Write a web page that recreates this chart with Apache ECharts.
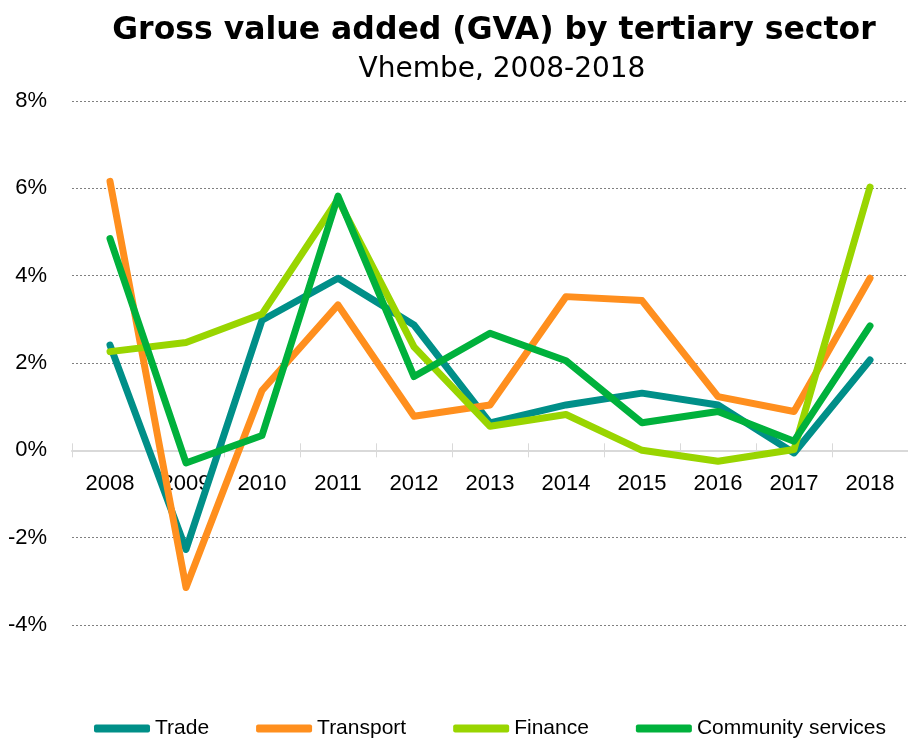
<!DOCTYPE html>
<html>
<head>
<meta charset="utf-8">
<script src="https://cdn.jsdelivr.net/npm/echarts@6/dist/echarts.min.js"></script>
<style>
  html, body { margin: 0; padding: 0; background: #fff; }
  #chart { width: 908px; height: 740px; }
</style>
</head>
<body>
<div id="chart"></div>
<script>
// GVA growth by tertiary sector, Vhembe
const years = ['2008', '2009', '2010', '2011', '2012', '2013', '2014', '2015', '2016', '2017', '2018'];
const trade = [2.41, -2.27, 2.98, 3.94, 2.87, 0.63, 1.04, 1.31, 1.04, -0.06, 2.07];
const transport = [6.16, -3.14, 1.37, 3.33, 0.78, 1.04, 3.52, 3.43, 1.23, 0.89, 3.94];
const finance = [2.26, 2.47, 3.12, 5.75, 2.37, 0.55, 0.82, 0.0, -0.25, 0.02, 6.03];
const community = [4.85, -0.29, 0.34, 5.82, 1.69, 2.68, 2.05, 0.63, 0.89, 0.21, 2.85];
const yTicks = [-4, -2, 0, 2, 4, 6, 8];

const labelFont = '"Liberation Sans", Arial, sans-serif';
const gridTop = 101;
const gridBottom = 115;
const gridHeight = 740 - gridTop - gridBottom;
// the category axis sits on the 0% line, not at the bottom of the plot
const zeroOffset = -gridHeight * (0 - yTicks[0]) / (yTicks[yTicks.length - 1] - yTicks[0]);

function lineSeries(name, data, color) {
  return {
    name: name,
    type: 'line',
    data: data,
    symbol: 'none',
    color: color,
    zlevel: 1, // lines go over the year labels
    lineStyle: { width: 7, color: color, cap: 'round', join: 'round' }
  };
}

const chart = echarts.init(document.getElementById('chart'));
chart.setOption({
  animation: false,
  title: [
    {
      text: 'Gross value added (GVA) by tertiary sector',
      left: 489,
      top: 10,
      textAlign: 'center',
      textStyle: { fontFamily: '"DejaVu Sans"', fontWeight: 'bold', fontSize: 31.5, color: '#000' }
    },
    {
      text: 'Vhembe, 2008-2018',
      left: 497,
      top: 51,
      textAlign: 'center',
      textStyle: { fontFamily: '"DejaVu Sans"', fontWeight: 'normal', fontSize: 28, color: '#000' }
    }
  ],
  legend: {
    left: 89,
    top: 713,
    width: 819,
    orient: 'horizontal',
    itemWidth: 56,
    itemHeight: 8,
    itemGap: 47,
    icon: 'roundRect',
    textStyle: { fontFamily: labelFont, fontSize: 21, color: '#000', padding: [0, 0, 0, 0] },
    data: ['Trade', 'Transport', 'Finance', 'Community services']
  },
  grid: { left: 72, right: 0, top: gridTop, bottom: gridBottom, containLabel: false },
  xAxis: [
    {
      type: 'category',
      data: years,
      boundaryGap: true,
      offset: zeroOffset,
      axisLine: { onZero: false, lineStyle: { color: '#d9d9d9', width: 2 } },
      axisTick: { show: true, length: 7, lineStyle: { color: '#d9d9d9', width: 1 } },
      axisLabel: { margin: 23, fontFamily: labelFont, fontSize: 22, color: '#000' },
      splitLine: { show: false }
    },
    {
      // upper half of the crossing ticks
      type: 'category',
      data: years,
      position: 'bottom',
      boundaryGap: true,
      offset: zeroOffset,
      axisLine: { show: false, onZero: false },
      axisTick: { show: true, inside: true, length: 7, lineStyle: { color: '#d9d9d9', width: 1 } },
      axisLabel: { show: false },
      splitLine: { show: false }
    }
  ],
  yAxis: {
    type: 'value',
    min: yTicks[0],
    max: yTicks[yTicks.length - 1],
    interval: 2,
    axisLine: { show: false },
    axisTick: { show: false },
    axisLabel: {
      margin: 25,
      fontFamily: labelFont,
      fontSize: 22,
      color: '#000',
      formatter: v => v + '%'
    },
    splitLine: { lineStyle: { color: '#808080', width: 1, type: [2, 2] } }
  },
  series: [
    lineSeries('Trade', trade, '#008F88'),
    lineSeries('Transport', transport, '#FF8F1E'),
    lineSeries('Finance', finance, '#99D500'),
    lineSeries('Community services', community, '#00B13C')
  ]
});
</script>
</body>
</html>
